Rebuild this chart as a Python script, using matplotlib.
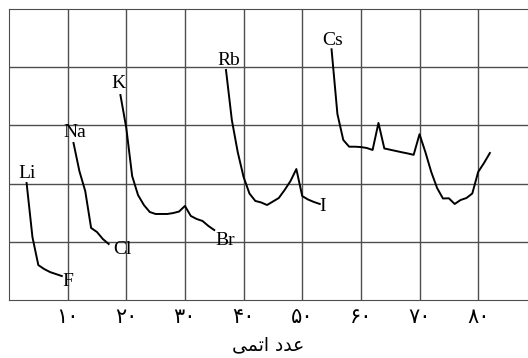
import numpy as np
import matplotlib.pyplot as plt

# ---------------------------------
# Data (atomic number vs atomic radius)
# ---------------------------------
z_li = [3, 4, 5, 6, 7, 8, 9]
r_li = [100.5, 54, 30, 26.6, 24, 22.3, 20.6]

z_na = [11, 12, 13, 14, 15, 16, 17]
r_na = [134.9, 110.8, 93.6, 61.9, 58.4, 52.4, 48.1]

z_k = list(range(19, 36))
r_k = [176.1, 147.8, 106.5, 90.2, 81.6, 75.6, 73.9, 73.9, 73.9, 74.7, 76.0,
       80.8, 72.2, 69.6, 67.9, 63.6, 60.1]

z_rb = list(range(37, 54))
r_rb = [197.6, 154.6, 127.1, 105.7, 91.5, 85.1, 83.8, 81.6, 84.6, 87.6, 94.5,
        102.2, 112.5, 89.3, 86.3, 84.2, 82.5]

z_cs = list(range(55, 83))
r_cs = [215.4, 159.8, 137.5, 131.7, 131.7, 131.4, 130.6, 128.9, 152.1, 130.2,
        129.1, 128.0, 126.9, 125.9, 124.7, 142.4, 127.1, 110.0, 96.2, 87.2,
        87.4, 82.5, 85.9, 87.6, 91.5, 110.0, 117.7, 126.3]

series = [(z_li, r_li), (z_na, r_na), (z_k, r_k), (z_rb, r_rb), (z_cs, r_cs)]

# element labels: (text, x, y)
labels = [("Li", 3.0, 109), ("Na", 11.2, 144), ("K", 18.6, 186),
          ("Rb", 37.4, 206), ("Cs", 55.1, 223), ("F", 10.0, 15.5),
          ("Cl", 19.3, 43.5), ("Br", 36.8, 51.5), ("I", 53.4, 80)]

xticks = [10, 20, 30, 40, 50, 60, 70, 80]
xtick_labels = ["\u06f1\u06f0", "\u06f2\u06f0", "\u06f3\u06f0", "\u06f4\u06f0",
                "\u06f5\u06f0", "\u06f6\u06f0", "\u06f7\u06f0", "\u06f8\u06f0"]
yticks = [50, 100, 150, 200]
# "عدد اتمی" in presentation forms, visual order
xlabel = "\ufbfd\ufee4\ufe97\ufe8d \ufea9\ufeaa\ufecb"

# ---------------------------------
# Plot
# ---------------------------------
fig = plt.figure(figsize=(5.28, 3.58), dpi=100)
ax = fig.add_axes([9 / 528, 58 / 358, 519 / 528, 291 / 358])

for z, r in series:
    ax.plot(z, r, color="black", lw=1.4)

for txt, x, y in labels:
    ax.text(x, y, txt, family="Liberation Serif", fontsize=14,
            ha="center", va="center")

ax.set_xlim(0, 88.5)
ax.set_ylim(0, 250)
ax.set_xticks(xticks)
ax.set_xticklabels(xtick_labels, family="DejaVu Sans", fontsize=15)
ax.set_yticks(yticks)
ax.set_yticklabels([])
ax.tick_params(length=0, pad=5)
ax.grid(True, color="#4d4d4d", lw=1.0)
ax.set_axisbelow(True)
for side in ["left", "top", "bottom"]:
    ax.spines[side].set_color("#4d4d4d")
ax.spines["right"].set_visible(False)

ax.set_xlabel(xlabel, family="DejaVu Sans", fontsize=13.5, labelpad=6)

plt.savefig("out.png", dpi=100)
